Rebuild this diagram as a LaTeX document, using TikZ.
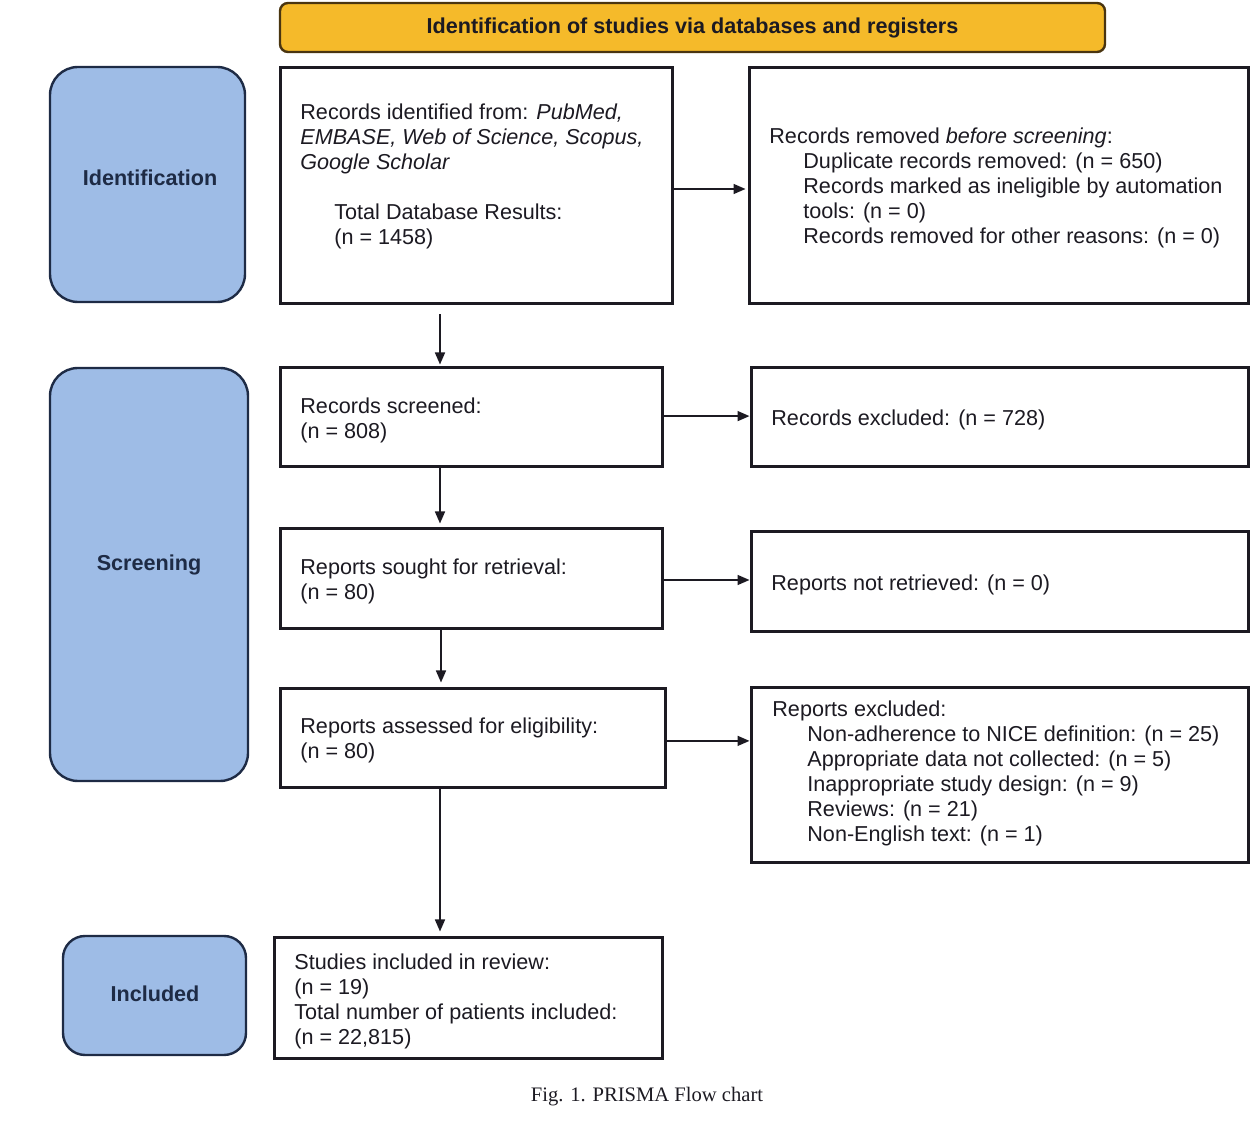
\documentclass[tikz,border=0pt]{standalone}
\usepackage{fontspec}
\setmainfont{Liberation Sans}
\newfontfamily\capfont{Liberation Serif}
\usetikzlibrary{arrows.meta}
\definecolor{bannerfill}{HTML}{F5BA2A}
\definecolor{bannerdraw}{HTML}{4A3510}
\definecolor{sidefill}{HTML}{9EBCE6}
\definecolor{sidedraw}{HTML}{1E2B45}
\definecolor{ink}{HTML}{1C1A22}
\begin{document}
\begin{tikzpicture}[x=0.5pt,y=-0.5pt,
  box/.style={draw=ink, line width=1.5pt, fill=white, inner sep=0pt},
  side/.style={draw=sidedraw, line width=1.2pt, fill=sidefill, rounded corners=14pt,
    inner sep=0pt, font=\fontsize{10.8}{12.5}\selectfont\bfseries, text=sidedraw},
  banner/.style={draw=bannerdraw, line width=1.2pt, fill=bannerfill, rounded corners=4pt,
    inner sep=0pt, font=\fontsize{10.8}{12.5}\selectfont\bfseries, text=ink},
  txt/.style={anchor=west, inner sep=0pt, align=left, text=ink,
    font=\fontsize{10.8}{12.5}\selectfont},
  arr/.style={draw=ink, line width=0.8pt, -{Triangle[length=6pt,width=5pt]}},
]
\useasboundingbox (0,0) rectangle (1250,1122);

% banner
\node[banner, minimum width=825*0.5pt, minimum height=49*0.5pt] (ban) at (692.5,27.5)
  {\raisebox{-1pt}{Identification of studies via databases and registers}};

% side phases
\node[side, minimum width=195*0.5pt, minimum height=235*0.5pt] (sid1) at (147.5,184.5) {};
\node[side, minimum width=198*0.5pt, minimum height=413*0.5pt] (sid2) at (149,574.5) {};
\node[side, minimum width=183*0.5pt, minimum height=119*0.5pt, rounded corners=11pt] (sid3) at (154.5,995.5) {};
\node[inner sep=0pt, font=\fontsize{10.8}{12.5}\selectfont\bfseries, text=sidedraw] (lab1) at (150,178) {Identification};
\node[inner sep=0pt, font=\fontsize{10.8}{12.5}\selectfont\bfseries, text=sidedraw] (lab2) at (149,565) {Screening};
\node[inner sep=0pt, font=\fontsize{10.8}{12.5}\selectfont\bfseries, text=sidedraw] (lab3) at (155,994) {Included};

% boxes
\node[box, minimum width=392*0.5pt, minimum height=236*0.5pt] (box1) at (476,186) {};
\node[box, minimum width=499*0.5pt, minimum height=236*0.5pt] (box2) at (998.5,186) {};
\node[box, minimum width=382*0.5pt, minimum height=99*0.5pt] (box3) at (471,417.5) {};
\node[box, minimum width=497*0.5pt, minimum height=99*0.5pt] (box4) at (999.5,417.5) {};
\node[box, minimum width=382*0.5pt, minimum height=100*0.5pt] (box5) at (471,579) {};
\node[box, minimum width=497*0.5pt, minimum height=100*0.5pt] (box6) at (999.5,582) {};
\node[box, minimum width=385*0.5pt, minimum height=99*0.5pt] (box7) at (472.5,738.5) {};
\node[box, minimum width=497*0.5pt, minimum height=175*0.5pt] (box8) at (999.5,775.5) {};
\node[box, minimum width=388*0.5pt, minimum height=121*0.5pt] (box9) at (468,998.5) {};

% texts
\node[txt] (t1) at (300,176.5) {Records identified from: \textit{PubMed,}\\
  \textit{EMBASE, Web of Science, Scopus,}\\
  \textit{Google Scholar}\\[12.5pt]
  \hspace*{17pt}Total Database Results:\\
  \hspace*{17pt}(n = 1458)};
\node[txt] (t2) at (769,188) {Records removed \textit{before screening}:\\
  \hspace*{17pt}Duplicate records removed: (n = 650)\\
  \hspace*{17pt}Records marked as ineligible by automation\\
  \hspace*{17pt}tools: (n = 0)\\
  \hspace*{17pt}Records removed for other reasons: (n = 0)};
\node[txt] (t3) at (300,420.5) {Records screened:\\(n = 808)};
\node[txt] (t4) at (771,420) {Records excluded: (n = 728)};
\node[txt] (t5) at (300,581.5) {Reports sought for retrieval:\\(n = 80)};
\node[txt] (t6) at (771,585) {Reports not retrieved: (n = 0)};
\node[txt] (t7) at (300,740.5) {Reports assessed for eligibility:\\(n = 80)};
\node[txt] (t8) at (772,773.5) {Reports excluded:\\
  \hspace*{17.5pt}Non-adherence to NICE definition: (n = 25)\\
  \hspace*{17.5pt}Appropriate data not collected: (n = 5)\\
  \hspace*{17.5pt}Inappropriate study design: (n = 9)\\
  \hspace*{17.5pt}Reviews: (n = 21)\\
  \hspace*{17.5pt}Non-English text: (n = 1)};
\node[txt] (t9) at (294,1001) {Studies included in review:\\(n = 19)\\
  Total number of patients included:\\(n = 22,815)};

% caption
\node[inner sep=0pt, text=ink, font=\capfont\fontsize{10.3}{12}\selectfont] (cap) at (647,1097)
  {Fig. 1. PRISMA Flow chart};

% connectors
\coordinate (sp) at (440,0);
\coordinate (sq) at (441,0);
\draw[arr, shorten >=1pt] ([yshift=-4.5pt]box1.south -| sp) -- (box3.north -| sp);
\draw[arr, shorten >=2pt] (box3.south -| sp) -- (box5.north -| sp);
\draw[arr, shorten >=2.5pt] (box5.south -| sq) -- (box7.north -| sq);
\draw[arr, shorten >=2.5pt] (box7.south -| sp) -- (box9.north -| sp);
\draw[arr, shorten >=1pt] ([yshift=-1.5pt]box1.east) -- ([yshift=-1.5pt]box1.east -| box2.west);
\draw[arr] ([yshift=0.7pt]box3.east) -- ([yshift=0.7pt]box3.east -| box4.west);
\draw[arr] ([yshift=-0.5pt]box5.east) -- ([yshift=-0.5pt]box5.east -| box6.west);
\draw[arr] ([yshift=-1.2pt]box7.east) -- ([yshift=-1.2pt]box7.east -| box8.west);
\end{tikzpicture}
\end{document}
